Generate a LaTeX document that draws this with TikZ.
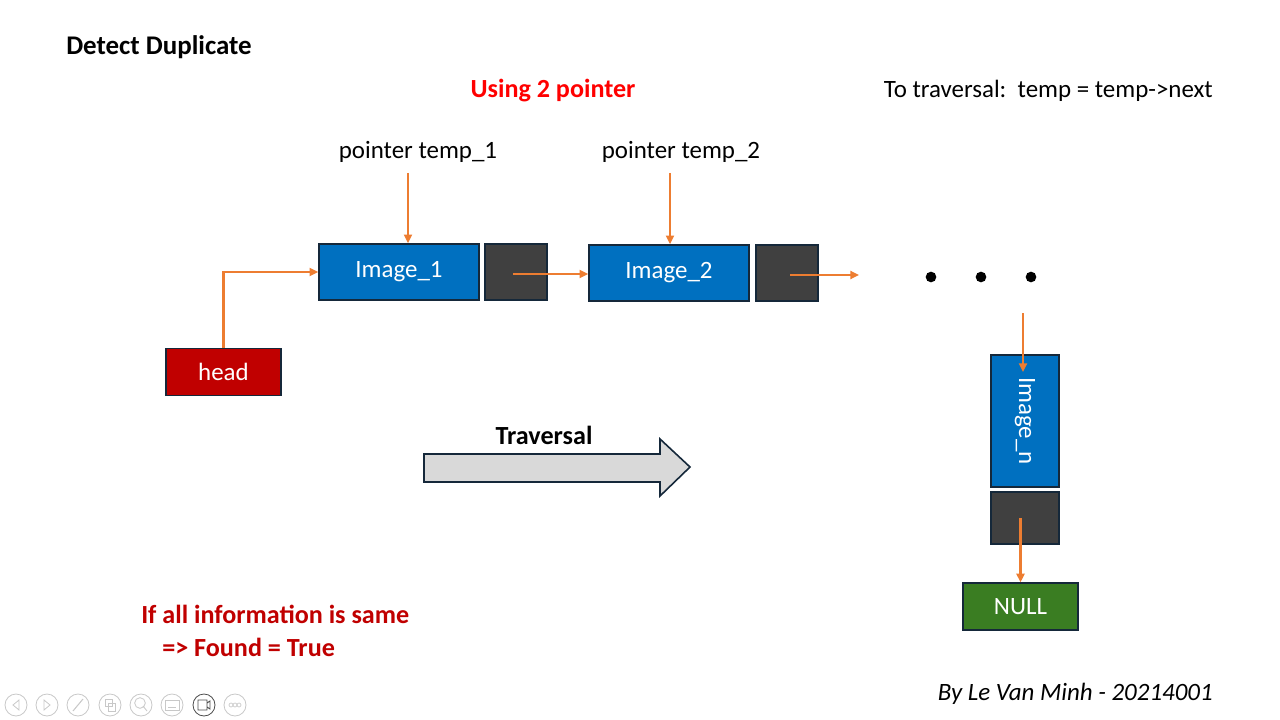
\documentclass[tikz,border=0pt]{standalone}
\usepackage{fontspec}
\setmainfont{Carlito}
\usetikzlibrary{arrows.meta,positioning}
\definecolor{nodeblue}{HTML}{0070C0}
\definecolor{nodegray}{HTML}{404040}
\definecolor{headred}{HTML}{C00000}
\definecolor{nullgreen}{HTML}{3A7D22}
\definecolor{ptrorange}{HTML}{ED7D31}
\definecolor{edgedark}{HTML}{15283A}
\definecolor{uigray}{HTML}{C8C8C8}
\begin{document}
\begin{tikzpicture}[x=0.75pt,y=-0.75pt,
    txt/.style={font=\fontsize{18.7}{22}\selectfont,inner sep=0pt},
    boldtxt/.style={txt,font=\fontsize{19.6}{23}\selectfont\bfseries},
    box/.style={draw=edgedark,line width=1.2pt,inner sep=0pt,text=white,font=\fontsize{18.7}{22}\selectfont},
    databox/.style={box,fill=nodeblue,minimum width=120pt,minimum height=42pt},
    nextbox/.style={box,fill=nodegray,minimum width=46.5pt,minimum height=42pt},
    ptr/.style={-{Triangle[length=6.5pt,width=6pt]},ptrorange,line width=1.6pt},
    uibtn/.style={circle,draw=uigray,line width=0.6pt,minimum size=16.5pt,inner sep=0pt}]
  \useasboundingbox (0,0) rectangle (1280,720);
  % titles
  \node[boldtxt,font=\fontsize{20.2}{24}\selectfont\bfseries,anchor=west] (title) at (66,47) {Detect Duplicate};
  \node[boldtxt,text=red] (using) at (553,91) {Using 2 pointer};
  \node[txt,anchor=east] (rule) at (1213,91) {To traversal:\ \ temp = temp->next};
  % pointers
  \node[txt] (p1) at (418,152) {pointer temp\_1};
  \node[txt] (p2) at (681,152) {pointer temp\_2};
  % list nodes
  \node[databox] (img1) at (399,272) {Image\_1};
  \node[nextbox] (nx1) at (516,272) {};
  \node[databox] (img2) at (669,273) {Image\_2};
  \node[nextbox] (nx2) at (787,273) {};
  \node[box,fill=nodeblue,minimum width=51pt,minimum height=99pt] (imgn) at (1025,421) {\rotatebox{-90}{Image\_n}};
  \node[box,fill=nodegray,minimum width=51pt,minimum height=39pt] (nxn) at (1025,518) {};
  \node[box,fill=nullgreen,minimum width=86pt,minimum height=35pt] (null) at (1020.5,606.5) {NULL};
  \node[box,fill=headred,minimum width=86pt,minimum height=35pt] (head) at (223.5,372) {head};
  % dots
  \foreach \x in {931,981,1031}
    \fill (\x,277) circle (4pt);
  % arrows
  \coordinate (p1tip) at (408,173);
  \coordinate (p2tip) at (670,173);
  \coordinate (nx1out) at (513,274);
  \coordinate (nx2out) at (790,275);
  \coordinate (nx2end) at (859,275);
  \coordinate (dotsout) at (1023,313);
  \coordinate (imgnin) at (1023,372);
  \draw[ptr] (p1tip) -- (p1tip |- img1.north);
  \draw[ptr] (p2tip) -- (p2tip |- img2.north);
  \draw[ptr] (head.north) |- (img1.west);
  \draw[ptr] (nx1out) -- (nx1out -| img2.west);
  \draw[ptr] (nx2out) -- (nx2end);
  \draw[ptr] (dotsout) -- (imgnin);
  \draw[ptr] (nxn.center -| null.north) -- (null.north);
  % traversal arrow
  \node[boldtxt] (trav) at (544,435) {Traversal};
  \draw[draw=edgedark,fill=black!15,line width=1.2pt] (424,454) -- (660,454) -- (660,439) -- (690,467)
    -- (660,496) -- (660,482) -- (424,482) -- cycle;
  % result
  \node[boldtxt,text=headred,anchor=west] (res1) at (141,614) {If all information is same};
  \node[boldtxt,text=headred,anchor=west] (res2) at (162,647) {=> Found = True};
  \node[txt,font=\fontsize{18.7}{22}\selectfont\itshape,anchor=east] (by) at (1213,694) {By Le Van Minh - 20214001};
  % slide show toolbar
  \foreach \i/\x in {1/16,2/47,3/78,4/110,5/141,6/172,8/235}
    \node[uibtn] (ui\i) at (\x,705) {};
  \node[uibtn,draw=black!70] (ui7) at (204,705) {};
  \draw[uigray,line width=0.6pt] (19,700) -- (13,705) -- (19,710) -- cycle;
  \draw[uigray,line width=0.6pt] (44,700) -- (50,705) -- (44,710) -- cycle;
  \draw[uigray,line width=0.8pt] (73,711) -- (83,699);
  \draw[uigray,line width=0.6pt] (105,699) rectangle (112,706) (108,703) rectangle (115,711);
  \draw[uigray,line width=0.6pt] (140,703) circle (4pt) (143,706) -- (147,711);
  \draw[uigray,line width=0.6pt] (165,700) rectangle (179,710) (168,707) -- (176,707);
  \draw[black!70,line width=0.7pt] (198,700) rectangle (207,710) (207,703) -- (210,701) -- (210,709) -- (207,707);
  \foreach \x in {231,235,239}
    \draw[uigray,line width=0.5pt] (\x,705) circle (1.5pt);
\end{tikzpicture}
\end{document}
